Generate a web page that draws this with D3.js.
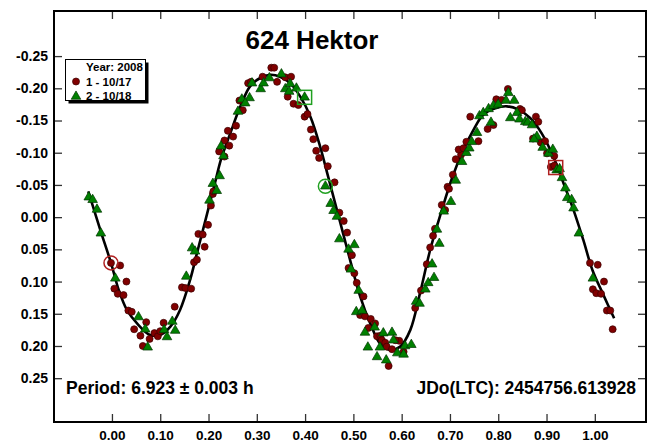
<!DOCTYPE html>
<html>
<head>
<meta charset="utf-8">
<script src="https://cdn.jsdelivr.net/npm/d3@7"></script>
<style>
  html, body { margin: 0; padding: 0; background: #fff; }
  svg { display: block; }
  text { font-family: "Liberation Sans", Arial, sans-serif; font-weight: bold; fill: #000; }
</style>
</head>
<body>
<svg id="chart" width="652" height="443"></svg>
<script>
// ---------------- data ----------------
const title = "624 Hektor";
const periodText = "Period: 6.923 \u00b1 0.003 h";
const epochText = "JDo(LTC): 2454756.613928";
const legendTitle = "Year: 2008";
const seriesNames = ["1 - 10/17", "2 - 10/18"];

const xTickValues = [0, 0.1, 0.2, 0.3, 0.4, 0.5, 0.6, 0.7, 0.8, 0.9, 1.0];
const xTickLabels = ["0.00", "0.10", "0.20", "0.30", "0.40", "0.50", "0.60", "0.70", "0.80", "0.90", "1.00"];
const yTickValues = [-0.25, -0.20, -0.15, -0.10, -0.05, 0, 0.05, 0.10, 0.15, 0.20, 0.25];
const yTickLabels = ["-0.25", "-0.20", "-0.15", "-0.10", "-0.05", "0.00", "0.05", "0.10", "0.15", "0.20", "0.25"];

// session 1 (10/17): [phase, mag]
const session1 = [
  [-0.002,0.071],[0.017,0.075],[0.030,0.100],[0.005,0.111],[0.012,0.119],[0.024,0.121],
  [0.034,0.145],[0.041,0.147],[0.046,0.174],[0.059,0.184],[0.064,0.200],[0.071,0.163],
  [0.078,0.189],[0.088,0.180],[0.095,0.185],[0.100,0.177],[0.107,0.164],[0.130,0.139],
  [0.145,0.109],[0.152,0.110],[0.164,0.111],[0.170,0.070],[0.176,0.066],[0.192,0.046],
  [0.179,0.026],[0.188,0.027],[0.199,0.012],[0.205,-0.018],[0.209,-0.036],[0.210,-0.040],
  [0.222,-0.102],[0.233,-0.094],[0.233,-0.119],[0.243,-0.111],[0.240,-0.134],[0.251,-0.125],
  [0.257,-0.142],[0.264,-0.181],[0.271,-0.166],[0.282,-0.208],[0.288,-0.210],[0.312,-0.218],
  [0.330,-0.232],[0.336,-0.232],[0.342,-0.210],[0.359,-0.217],[0.371,-0.218],[0.364,-0.187],
  [0.376,-0.176],[0.386,-0.174],[0.399,-0.156],[0.405,-0.160],[0.412,-0.136],[0.417,-0.121],
  [0.423,-0.103],[0.442,-0.107],[0.429,-0.092],[0.447,-0.079],[0.461,-0.054],[0.471,-0.007],
  [0.480,0.006],[0.487,0.024],[0.497,0.059],[0.490,0.079],[0.502,0.087],[0.507,0.102],
  [0.521,0.123],[0.514,0.152],[0.524,0.154],[0.536,0.158],[0.531,0.172],[0.545,0.165],
  [0.549,0.185],[0.556,0.184],[0.559,0.191],[0.566,0.195],[0.569,0.201],[0.580,0.205],
  [0.595,0.192],[0.604,0.209],[0.573,0.231],[0.587,0.191],[0.628,0.141],[0.640,0.114],
  [0.652,0.073],[0.659,0.047],[0.665,0.029],[0.669,0.018],[0.683,-0.019],[0.690,-0.011],
  [0.695,-0.047],[0.698,-0.044],[0.706,-0.066],[0.712,-0.090],[0.723,-0.097],[0.718,-0.105],
  [0.728,-0.107],[0.734,-0.117],[0.759,-0.118],[0.742,-0.156],[0.778,-0.137],[0.790,-0.143],
  [0.796,-0.183],[0.807,-0.182],[0.820,-0.199],[0.845,-0.168],[0.849,-0.166],[0.878,-0.156],
  [0.883,-0.148],[0.872,-0.122],[0.888,-0.116],[0.897,-0.118],[0.901,-0.099],[0.916,-0.095],
  [0.909,-0.078],[0.916,-0.080],[0.990,0.071],[1.006,0.074],[1.019,0.100],[0.996,0.112],
  [1.003,0.118],[1.013,0.119],[1.025,0.145],[1.032,0.145],[1.037,0.174]
];

// session 2 (10/18): [phase, mag]
const session2 = [
  [-0.048,-0.031],[-0.040,-0.027],[-0.031,-0.012],[-0.023,0.025],[0.007,0.095],[0.055,0.155],
  [0.069,0.174],[0.074,0.202],[0.108,0.175],[0.114,0.186],[0.131,0.176],[0.125,0.162],
  [0.154,0.092],[0.166,0.048],[0.172,0.053],[0.202,-0.026],[0.209,-0.052],[0.217,-0.041],
  [0.223,-0.064],[0.226,-0.110],[0.231,-0.095],[0.261,-0.164],[0.269,-0.183],[0.285,-0.185],
  [0.276,-0.177],[0.290,-0.208],[0.308,-0.199],[0.314,-0.208],[0.326,-0.216],[0.351,-0.222],
  [0.359,-0.199],[0.369,-0.207],[0.367,-0.195],[0.382,-0.200],[0.399,-0.186],[0.442,-0.048],
  [0.453,-0.021],[0.459,-0.010],[0.466,-0.001],[0.471,0.034],[0.490,0.050],[0.502,0.043],
  [0.495,0.081],[0.511,0.114],[0.506,0.147],[0.518,0.145],[0.524,0.179],[0.544,0.171],
  [0.530,0.202],[0.549,0.217],[0.562,0.180],[0.580,0.179],[0.555,0.202],[0.568,0.222],
  [0.591,0.211],[0.604,0.213],[0.583,0.191],[0.607,0.200],[0.620,0.198],[0.630,0.131],
  [0.637,0.134],[0.649,0.112],[0.655,0.102],[0.667,0.094],[0.663,0.073],[0.678,0.041],
  [0.673,0.019],[0.687,-0.009],[0.702,-0.024],[0.712,-0.057],[0.725,-0.086],[0.734,-0.100],
  [0.740,-0.107],[0.745,-0.117],[0.756,-0.131],[0.761,-0.157],[0.769,-0.162],[0.780,-0.168],
  [0.785,-0.147],[0.790,-0.173],[0.800,-0.175],[0.816,-0.181],[0.821,-0.193],[0.833,-0.181],
  [0.825,-0.154],[0.839,-0.162],[0.844,-0.152],[0.856,-0.148],[0.861,-0.147],[0.870,-0.143],
  [0.880,-0.125],[0.874,-0.121],[0.892,-0.108],[0.904,-0.099],[0.913,-0.105],[0.921,-0.073],
  [0.927,-0.075],[0.932,-0.061],[0.939,-0.045],[0.943,-0.030],[0.952,-0.027],[0.956,-0.014],
  [0.967,0.025],[0.996,0.095]
];

// fitted lightcurve: [phase, mag]
const fitCurve = [
  [-0.049,-0.040],[-0.024,0.020],[-0.002,0.071],[0.014,0.113],[0.031,0.144],[0.052,0.165],
  [0.079,0.183],[0.100,0.183],[0.121,0.170],[0.141,0.144],[0.162,0.097],[0.176,0.056],
  [0.197,-0.005],[0.214,-0.055],[0.226,-0.090],[0.245,-0.130],[0.266,-0.172],[0.286,-0.203],
  [0.307,-0.216],[0.328,-0.221],[0.348,-0.218],[0.369,-0.208],[0.390,-0.187],[0.411,-0.156],
  [0.431,-0.110],[0.448,-0.062],[0.473,0.009],[0.493,0.066],[0.514,0.123],[0.535,0.165],
  [0.555,0.196],[0.576,0.206],[0.597,0.201],[0.618,0.175],[0.638,0.118],[0.659,0.051],
  [0.682,-0.008],[0.704,-0.060],[0.728,-0.105],[0.749,-0.136],[0.769,-0.159],[0.794,-0.169],
  [0.818,-0.172],[0.842,-0.167],[0.866,-0.154],[0.890,-0.130],[0.914,-0.094],[0.935,-0.053],
  [0.956,-0.011],[0.976,0.035],[0.995,0.082],[1.018,0.121],[1.040,0.157]
];

// highlighted observations: [phase, mag, series]
const ringMarks = [[-0.002, 0.071, 0], [0.442, -0.048, 1]];
const squareMarks = [[0.399, -0.186, 1], [0.919, -0.077, 0]];

// ---------------- drawing ----------------
const svg = d3.select("#chart");
const W = 652, H = 443;
const frame = {left: 54, right: 646, top: 11, bottom: 422};

const x = d3.scaleLinear().domain([-0.12, 1.106]).range([frame.left, frame.right]);
const y = d3.scaleLinear().domain([-0.32, 0.318]).range([frame.top, frame.bottom]);

const fillColors = ["#800000", "#008000"];
const strokeColors = ["#3a0000", "#003500"];
const hiliteColors = ["#b02020", "#20a020"];

svg.append("rect").attr("width", W).attr("height", H).attr("fill", "#fff");

const fmtX = (d) => xTickLabels[xTickValues.indexOf(d)];
const fmtY = (d) => yTickLabels[yTickValues.indexOf(d)];

const axB = svg.append("g").attr("transform", `translate(0,${frame.bottom})`)
  .call(d3.axisBottom(x).tickValues(xTickValues).tickFormat(fmtX).tickSizeInner(-8).tickSizeOuter(0).tickPadding(8));
const axT = svg.append("g").attr("transform", `translate(0,${frame.top})`)
  .call(d3.axisTop(x).tickValues(xTickValues).tickFormat("").tickSizeInner(-8).tickSizeOuter(0));
const axL = svg.append("g").attr("transform", `translate(${frame.left},0)`)
  .call(d3.axisLeft(y).tickValues(yTickValues).tickFormat(fmtY).tickSizeInner(-8).tickSizeOuter(0).tickPadding(6));
const axR = svg.append("g").attr("transform", `translate(${frame.right},0)`)
  .call(d3.axisRight(y).tickValues(yTickValues).tickFormat("").tickSizeInner(-8).tickSizeOuter(0));

[axB, axT, axL, axR].forEach(g => {
  g.select(".domain").remove();
  g.selectAll(".tick line").attr("stroke", "#333").attr("stroke-width", 1.3);
  g.selectAll(".tick text").attr("fill", "#000")
    .style("font-family", "'Liberation Sans', Arial, sans-serif")
    .style("font-weight", "bold");
});
axB.selectAll(".tick text").style("font-size", "13.5px");
axL.selectAll(".tick text").style("font-size", "14px");

// frame
svg.append("rect")
  .attr("x", frame.left).attr("y", frame.top)
  .attr("width", frame.right - frame.left).attr("height", frame.bottom - frame.top)
  .attr("fill", "none").attr("stroke", "#000").attr("stroke-width", 2);

// fit curve
const line = d3.line().x(d => x(d[0])).y(d => y(d[1])).curve(d3.curveCatmullRom.alpha(0.5));
svg.append("path").datum(fitCurve)
  .attr("d", line).attr("fill", "none").attr("stroke", "#000").attr("stroke-width", 2.6);

// session 1 circles
svg.append("g").selectAll("circle").data(session1).join("circle")
  .attr("cx", d => x(d[0])).attr("cy", d => y(d[1])).attr("r", 3.5)
  .attr("fill", fillColors[0]).attr("stroke", strokeColors[0]).attr("stroke-width", 0.7);

// session 2 triangles
const tri = d3.symbol().type(d3.symbolTriangle).size(40);
svg.append("g").selectAll("path").data(session2).join("path")
  .attr("d", tri).attr("transform", d => `translate(${x(d[0])},${y(d[1])})`)
  .attr("fill", fillColors[1]).attr("stroke", strokeColors[1]).attr("stroke-width", 0.7);

// highlight rings and squares
svg.append("g").selectAll("circle").data(ringMarks).join("circle")
  .attr("cx", d => x(d[0])).attr("cy", d => y(d[1])).attr("r", 7)
  .attr("fill", "none").attr("stroke", d => hiliteColors[d[2]]).attr("stroke-width", 1.5);
svg.append("g").selectAll("rect").data(squareMarks).join("rect")
  .attr("x", d => x(d[0]) - 7).attr("y", d => y(d[1]) - 7).attr("width", 14).attr("height", 14)
  .attr("fill", "none").attr("stroke", d => hiliteColors[d[2]]).attr("stroke-width", 1.5);

// title & annotations
svg.append("text").attr("x", 312).attr("y", 49).attr("text-anchor", "middle")
  .style("font-size", "26px").text(title);
svg.append("text").attr("x", 66).attr("y", 394).style("font-size", "17.5px").text(periodText);
svg.append("text").attr("x", 636).attr("y", 394).attr("text-anchor", "end").style("font-size", "17.5px").text(epochText);

// legend
const lg = svg.append("g");
lg.append("rect").attr("x", 68.5).attr("y", 62.5).attr("width", 80).attr("height", 41).attr("fill", "#000");
lg.append("rect").attr("x", 65.5).attr("y", 59.5).attr("width", 80).attr("height", 41)
  .attr("fill", "#fff").attr("stroke", "#000").attr("stroke-width", 1);
lg.append("text").attr("x", 86).attr("y", 71).style("font-size", "11.5px").text(legendTitle);
lg.append("circle").attr("cx", 76).attr("cy", 81.5).attr("r", 3.5)
  .attr("fill", fillColors[0]).attr("stroke", strokeColors[0]).attr("stroke-width", 0.7);
lg.append("text").attr("x", 86).attr("y", 85.5).style("font-size", "11.5px").text(seriesNames[0]);
lg.append("path").attr("d", tri).attr("transform", "translate(76,96.5)")
  .attr("fill", fillColors[1]).attr("stroke", strokeColors[1]).attr("stroke-width", 0.7);
lg.append("text").attr("x", 86).attr("y", 100).style("font-size", "11.5px").text(seriesNames[1]);
</script>
</body>
</html>
